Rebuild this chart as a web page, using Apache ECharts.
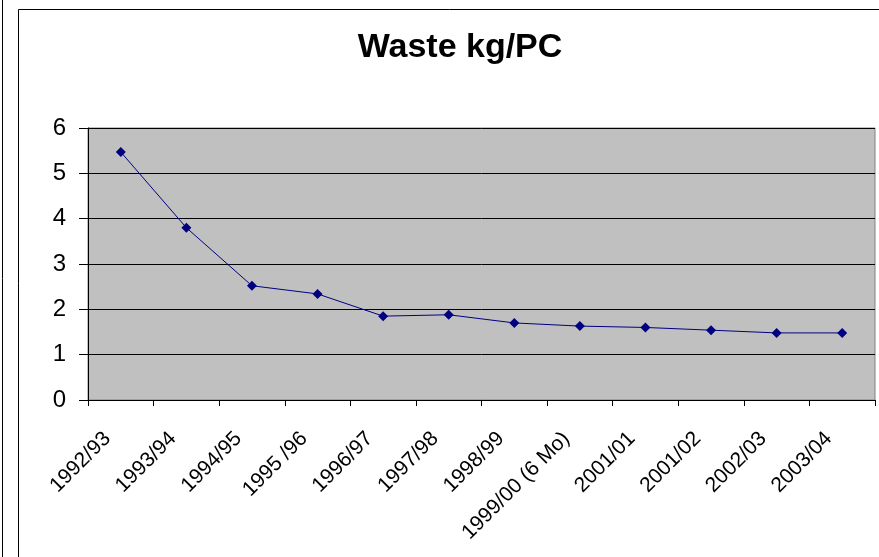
<!DOCTYPE html>
<html>
<head>
<meta charset="utf-8">
<script src="https://cdn.jsdelivr.net/npm/echarts@6/dist/echarts.min.js"></script>
<style>
  html, body { margin: 0; padding: 0; background: #fff; }
  #chart { width: 879px; height: 557px; }
</style>
</head>
<body>
<div id="chart"></div>
<script>
var years = ['1992/93', '1993/94', '1994/95', '1995 /96', '1996/97', '1997/98', '1998/99',
    '1999/00 (6 Mo)', '2001/01', '2001/02', '2002/03', '2003/04'];
var waste = [5.47, 3.8, 2.52, 2.34, 1.85, 1.88, 1.7, 1.63, 1.6, 1.54, 1.48, 1.48];

var chart = echarts.init(document.getElementById('chart'));
chart.setOption({
    animation: false,
    backgroundColor: '#fff',
    textStyle: { fontFamily: 'Liberation Sans, Arial, sans-serif' },
    title: {
        text: 'Waste kg/PC',
        left: 455,
        top: 26,
        textAlign: 'center',
        textStyle: { fontSize: 34, fontWeight: 'bold', color: '#000' }
    },
    graphic: [
        { type: 'rect', shape: { x: 18.5, y: 9.5, width: 900, height: 600 },
          style: { fill: 'none', stroke: '#000', lineWidth: 1 } },
        { type: 'line', shape: { x1: 2.5, y1: 0, x2: 2.5, y2: 557 },
          style: { stroke: '#000', lineWidth: 1 } }
    ],
    grid: {
        left: 88, top: 128, width: 787, height: 272,
        show: true, backgroundColor: '#c0c0c0', borderColor: '#808080', borderWidth: 1
    },
    xAxis: {
        type: 'category',
        data: years,
        boundaryGap: true,
        axisLine: { lineStyle: { color: '#000' } },
        axisTick: { show: true, length: 6, lineStyle: { color: '#000' } },
        axisLabel: { rotate: 45, fontSize: 21, color: '#000', margin: 22, interval: 0, padding: [0, 19, 0, 0] }
    },
    yAxis: {
        type: 'value',
        min: 0, max: 6, interval: 1,
        axisLine: { show: true, lineStyle: { color: '#000' } },
        axisTick: { show: true, length: 9, lineStyle: { color: '#000' } },
        axisLabel: { fontSize: 24, color: '#000', margin: 22 },
        splitLine: { lineStyle: { color: '#000', width: 1 } }
    },
    series: [{
        type: 'line',
        data: waste,
        symbol: 'diamond',
        symbolSize: 10,
        itemStyle: { color: '#000080' },
        lineStyle: { color: '#000080', width: 1 }
    }]
});
</script>
</body>
</html>
